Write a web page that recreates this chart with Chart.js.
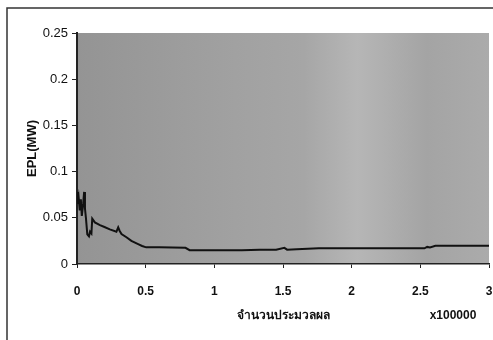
<!DOCTYPE html>
<html>
<head>
<meta charset="utf-8">
<script src="https://cdn.jsdelivr.net/npm/chart.js@4.4.1/dist/chart.umd.min.js"></script>
<style>
    html, body { margin: 0; padding: 0; background: #fff; }
    #wrap { width: 493px; height: 340px; }
</style>
</head>
<body>
<div id="wrap"><canvas id="epl-chart"></canvas></div>
<script>
// x in units of 100000 iterations, y = EPL in MW
const iterations = [0, 0.005, 0.012, 0.02, 0.028, 0.035, 0.045, 0.052, 0.058, 0.065,
    0.075, 0.087, 0.095, 0.105, 0.111, 0.13, 0.167, 0.2, 0.239, 0.287,
    0.3, 0.31, 0.324, 0.36, 0.396, 0.445, 0.474, 0.504, 0.6, 0.79,
    0.82, 1.0, 1.2, 1.33, 1.45, 1.51, 1.53, 1.6, 1.76, 2.0,
    2.3, 2.53, 2.55, 2.57, 2.61, 2.8, 3.0];
const eplValues = [0.078, 0.065, 0.072, 0.058, 0.07, 0.052, 0.065, 0.078, 0.06, 0.05,
    0.032, 0.03, 0.035, 0.033, 0.049, 0.045, 0.042, 0.04, 0.0375, 0.035,
    0.0397, 0.036, 0.0325, 0.029, 0.025, 0.0216, 0.0195, 0.018, 0.018, 0.0175,
    0.015, 0.015, 0.015, 0.0155, 0.0155, 0.0175, 0.0155, 0.016, 0.017, 0.017,
    0.017, 0.017, 0.0185, 0.018, 0.0198, 0.0198, 0.0198];
const xTicks = [0, 0.5, 1, 1.5, 2, 2.5, 3];
const yTicks = [0, 0.05, 0.1, 0.15, 0.2, 0.25];

const points = iterations.map((x, i) => ({ x: x, y: eplValues[i] }));

// gray plot background + outer frame lines + x100000 note
const paperPlugin = {
    id: 'paper',
    beforeDraw(chart) {
        const ctx = chart.ctx;
        const a = chart.chartArea;
        ctx.save();
        const g = ctx.createLinearGradient(a.left, 0, a.right, 0);
        g.addColorStop(0, '#949494');
        g.addColorStop(0.35, '#a0a0a0');
        g.addColorStop(0.55, '#a6a6a6');
        g.addColorStop(0.68, '#b6b6b6');
        g.addColorStop(0.85, '#a4a4a4');
        g.addColorStop(1, '#ababab');
        ctx.fillStyle = g;
        ctx.fillRect(a.left, a.top, a.right - a.left, a.bottom - a.top);

        ctx.strokeStyle = '#333';
        ctx.lineWidth = 1.5;
        ctx.beginPath();
        ctx.moveTo(7, 340);
        ctx.lineTo(7, 8);
        ctx.lineTo(493, 8);
        ctx.stroke();
        ctx.restore();
    },
    afterDraw(chart) {
        const ctx = chart.ctx;
        ctx.save();
        ctx.fillStyle = '#111';
        ctx.font = 'bold 12px "Liberation Sans", Arial, sans-serif';
        ctx.textAlign = 'center';
        ctx.textBaseline = 'middle';
        ctx.fillText('x100000', 453, 316);
        ctx.restore();
    }
};

new Chart(document.getElementById('epl-chart'), {
    type: 'scatter',
    data: {
        datasets: [{
            label: 'EPL',
            data: points,
            showLine: true,
            borderColor: '#111',
            borderWidth: 2,
            pointRadius: 0,
            tension: 0
        }]
    },
    options: {
        responsive: true,
        maintainAspectRatio: false,
        animation: false,
        layout: { padding: { left: 0, top: 33, right: 4, bottom: 0 } },
        plugins: {
            legend: { display: false },
            tooltip: { enabled: false }
        },
        scales: {
            x: {
                type: 'linear',
                min: 0,
                max: 3,
                afterBuildTicks: (axis) => { axis.ticks = xTicks.map(v => ({ value: v })); },
                afterFit: (axis) => {
                    axis.height = 76;
                    axis.paddingLeft = 0;
                    axis.paddingRight = 0;
                },
                grid: { drawOnChartArea: false, drawTicks: true, tickLength: 4, color: '#222' },
                border: { color: '#222', width: 1.5 },
                ticks: {
                    padding: 16,
                    color: '#111',
                    maxRotation: 0,
                    font: { family: '"Liberation Sans", Arial, sans-serif', size: 12, weight: 'bold' },
                    callback: (v) => String(v)
                },
                title: {
                    display: true,
                    text: 'จำนวนประมวลผล',
                    color: '#111',
                    font: { family: '"Liberation Sans", Arial, sans-serif', size: 12, weight: 'bold' },
                    padding: { top: 0, bottom: 17 }
                }
            },
            y: {
                min: 0,
                max: 0.25,
                afterBuildTicks: (axis) => { axis.ticks = yTicks.map(v => ({ value: v })); },
                afterFit: (axis) => { axis.width = 77; },
                grid: { drawOnChartArea: false, drawTicks: true, tickLength: 5, color: '#222' },
                border: { color: '#222', width: 2 },
                ticks: {
                    padding: 4,
                    color: '#111',
                    font: { family: '"Liberation Sans", Arial, sans-serif', size: 13 },
                    callback: (v) => String(v)
                },
                title: {
                    display: true,
                    text: 'EPL(MW)',
                    color: '#111',
                    font: { family: '"Liberation Sans", Arial, sans-serif', size: 13, weight: 'bold' },
                    padding: { top: 25, bottom: 0 }
                }
            }
        }
    },
    plugins: [paperPlugin]
});
</script>
</body>
</html>
